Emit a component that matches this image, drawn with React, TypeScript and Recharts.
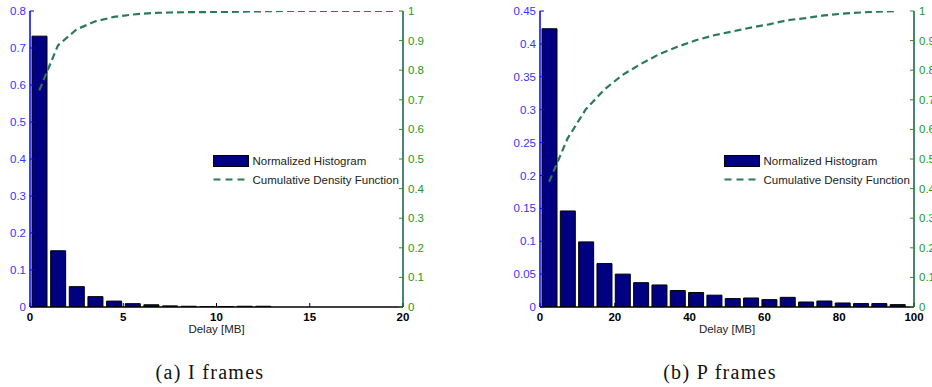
import React from 'react';
import { ComposedChart, Bar, Line, XAxis, YAxis } from 'recharts';

// ---------- I frames ----------
const iBinCenters = [0.5, 1.5, 2.5, 3.5, 4.5, 5.5, 6.5, 7.5, 8.5, 9.5, 10.5, 11.5, 12.5, 13.5, 14.5, 15.5, 16.5, 17.5, 18.5, 19.5];
const iHistogram = [0.732, 0.152, 0.055, 0.028, 0.016, 0.009, 0.006, 0.003, 0.002, 0.0005, 0.001, 0.002, 0.002, 0, 0, 0, 0, 0, 0, 0];
const iCdf = [0.732, 0.884, 0.938, 0.965, 0.98, 0.988, 0.993, 0.995, 0.996, 0.9965, 0.997, 0.998, 0.999, 1, 1, 1, 1, 1, 1, 1];
const iXTicks = [0, 5, 10, 15, 20];
const iLeftTicks = [0, 0.1, 0.2, 0.3, 0.4, 0.5, 0.6, 0.7, 0.8];

// ---------- P frames ----------
const pBinCenters = [2.45, 7.35, 12.25, 17.15, 22.05, 26.95, 31.85, 36.75, 41.65, 46.55, 51.45, 56.35, 61.25, 66.15, 71.05, 75.95, 80.85, 85.75, 90.65, 95.55];
const pHistogram = [0.423, 0.146, 0.099, 0.066, 0.05, 0.037, 0.0335, 0.025, 0.022, 0.018, 0.0128, 0.0137, 0.0112, 0.0147, 0.0076, 0.0091, 0.0061, 0.0052, 0.0052, 0.0036];
const pCdf = [0.423, 0.569, 0.668, 0.734, 0.784, 0.821, 0.854, 0.879, 0.901, 0.918, 0.931, 0.944, 0.955, 0.969, 0.976, 0.985, 0.991, 0.995, 0.998, 1.0];
const pXTicks = [0, 20, 40, 60, 80, 100];
const pLeftTicks = [0, 0.05, 0.1, 0.15, 0.2, 0.25, 0.3, 0.35, 0.4, 0.45];

const cdfTicks = [0, 0.1, 0.2, 0.3, 0.4, 0.5, 0.6, 0.7, 0.8, 0.9, 1];

const legendLabels = ['Normalized Histogram', 'Cumulative Density Function'];
const xAxisLabel = 'Delay [MB]';
const captions = ['(a) I frames', '(b) P frames'];

const FONT = '"Liberation Sans", Arial, Helvetica, sans-serif';
const SERIF = '"Liberation Serif", "Times New Roman", serif';
const BLUE = '#3535ff';
const BLUE_LINE = '#0000ff';
const GREEN = '#229a22';
const RIGHT_LINE = '#0d5e3c';
const NAVY = '#000080';
const CDF_COLOR = '#2a7a56';

type PanelProps = {
  centers: number[];
  hist: number[];
  cdf: number[];
  width: number;
  leftWidth: number;
  rightWidth: number;
  marginRight: number;
  xDomain: [number, number];
  xTicks: number[];
  yLeftDomain: [number, number];
  yLeftTicks: number[];
  barSize: number;
};

function Panel(p: PanelProps) {
  const data = p.centers.map((x, i) => ({ x, hist: p.hist[i], cdf: p.cdf[i] }));
  return (
    <ComposedChart
      width={p.width}
      height={387}
      data={data}
      margin={{ top: 11, right: p.marginRight, bottom: 50, left: 0 }}
    >
      <XAxis
        xAxisId="b"
        dataKey="x"
        type="number"
        domain={p.xDomain}
        ticks={p.xTicks}
        allowDataOverflow
        height={30}
        tickSize={-4}
        tickMargin={10}
        axisLine={{ stroke: '#000', strokeWidth: 1.5 }}
        tickLine={{ stroke: '#000' }}
        tick={{ fill: '#000', fontSize: 11.5, fontFamily: FONT, fontWeight: 'bold' }}
        label={{ value: xAxisLabel, position: 'insideBottom', offset: 4, fill: '#222', fontSize: 11.5, fontFamily: FONT }}
      />
      <XAxis
        xAxisId="t"
        orientation="top"
        mirror
        type="number"
        domain={p.xDomain}
        ticks={p.xTicks}
        allowDataOverflow
        height={0}
        tickSize={4}
        tick={false}
        axisLine={{ stroke: '#000', strokeWidth: 1.5 }}
        tickLine={{ stroke: '#000' }}
      />
      <YAxis
        yAxisId="l"
        orientation="left"
        type="number"
        width={p.leftWidth}
        domain={p.yLeftDomain}
        ticks={p.yLeftTicks}
        allowDataOverflow
        tickSize={-4}
        tickMargin={8}
        axisLine={{ stroke: BLUE_LINE, strokeWidth: 1.5 }}
        tickLine={{ stroke: BLUE_LINE }}
        tick={{ fill: BLUE, fontSize: 11.5, fontFamily: FONT }}
      />
      <YAxis
        yAxisId="lm"
        orientation="right"
        mirror
        type="number"
        width={0}
        domain={p.yLeftDomain}
        ticks={p.yLeftTicks}
        allowDataOverflow
        tickSize={4}
        tick={false}
        axisLine={false}
        tickLine={{ stroke: BLUE_LINE }}
      />
      <YAxis
        yAxisId="r"
        orientation="right"
        type="number"
        width={p.rightWidth}
        domain={[0, 1]}
        ticks={cdfTicks}
        allowDataOverflow
        tickSize={-4}
        tickMargin={9}
        axisLine={{ stroke: RIGHT_LINE, strokeWidth: 1.5 }}
        tickLine={{ stroke: GREEN }}
        tick={{ fill: GREEN, fontSize: 11.5, fontFamily: FONT }}
      />
      <Bar
        xAxisId="b"
        yAxisId="l"
        dataKey="hist"
        barSize={p.barSize}
        fill={NAVY}
        stroke="#000"
        strokeWidth={1}
        isAnimationActive={false}
      />
      <Line
        xAxisId="b"
        yAxisId="r"
        dataKey="cdf"
        type="linear"
        stroke={CDF_COLOR}
        strokeWidth={2.2}
        strokeDasharray="7 4"
        dot={false}
        activeDot={false}
        isAnimationActive={false}
      />
    </ComposedChart>
  );
}

function LegendBlock({ x }: { x: number }) {
  return (
    <g>
      <rect x={x} y={155.5} width={35} height={11} fill={NAVY} stroke="#000" strokeWidth={1} />
      <text x={x + 39} y={165} fontSize={11.5} fontFamily={FONT} fill="#222">{legendLabels[0]}</text>
      <line x1={x} y1={179.5} x2={x + 35} y2={179.5} stroke={CDF_COLOR} strokeWidth={2.2} strokeDasharray="7 5" />
      <text x={x + 39} y={184} fontSize={11.5} fontFamily={FONT} fill="#222">{legendLabels[1]}</text>
    </g>
  );
}

export default function App() {
  return (
    <div style={{ position: 'absolute', left: 0, top: 0, width: 932, height: 387, background: '#fff', overflow: 'hidden' }}>
      <div style={{ position: 'absolute', left: 0, top: 0 }}>
        <Panel
          centers={iBinCenters}
          hist={iHistogram}
          cdf={iCdf}
          width={470}
          leftWidth={30}
          rightWidth={40}
          marginRight={27}
          xDomain={[0, 20]}
          xTicks={iXTicks}
          yLeftDomain={[0, 0.8]}
          yLeftTicks={iLeftTicks}
          barSize={15}
        />
      </div>
      <div style={{ position: 'absolute', left: 470, top: 0 }}>
        <Panel
          centers={pBinCenters}
          hist={pHistogram}
          cdf={pCdf}
          width={462}
          leftWidth={70}
          rightWidth={18}
          marginRight={0}
          xDomain={[0, 100]}
          xTicks={pXTicks}
          yLeftDomain={[0, 0.45]}
          yLeftTicks={pLeftTicks}
          barSize={15}
        />
      </div>
      <svg width={932} height={387} style={{ position: 'absolute', left: 0, top: 0, pointerEvents: 'none' }}>
        <LegendBlock x={213.5} />
        <LegendBlock x={724.5} />
        <text x={210} y={379} textAnchor="middle" fontSize={20} fontFamily={SERIF} letterSpacing={1.3} fill="#111">{captions[0]}</text>
        <text x={720} y={379} textAnchor="middle" fontSize={20} fontFamily={SERIF} letterSpacing={1.3} fill="#111">{captions[1]}</text>
      </svg>
    </div>
  );
}
